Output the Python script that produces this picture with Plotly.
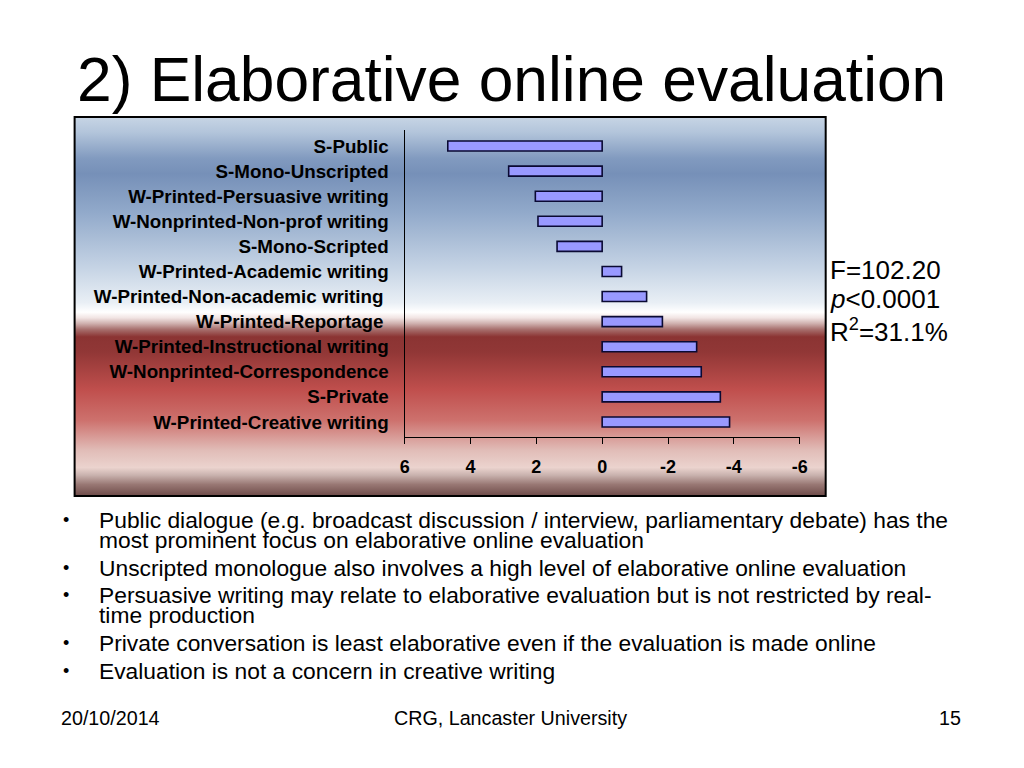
import base64
import plotly.graph_objects as go

# ---- data ----
categories = [
    "S-Public",
    "S-Mono-Unscripted",
    "W-Printed-Persuasive writing",
    "W-Nonprinted-Non-prof writing",
    "S-Mono-Scripted",
    "W-Printed-Academic writing",
    "W-Printed-Non-academic writing ",
    "W-Printed-Reportage ",
    "W-Printed-Instructional writing",
    "W-Nonprinted-Correspondence",
    "S-Private",
    "W-Printed-Creative writing",
]
scores = [4.69, 2.84, 2.03, 1.95, 1.37, -0.59, -1.35, -1.83, -2.87, -3.01, -3.59, -3.87]
x_ticks = [6, 4, 2, 0, -2, -4, -6]
x_tick_labels = ["6", "4", "2", "0", "-2", "-4", "-6"]

title_text = "2) Elaborative online evaluation"
stats_lines = ["F=102.20", "<i>p</i><0.0001", "R<sup>2</sup>=31.1%"]
bullets = [
    ["Public dialogue (e.g. broadcast discussion / interview, parliamentary debate) has the",
     "most prominent focus on elaborative online evaluation"],
    ["Unscripted monologue also involves a high level of elaborative online evaluation"],
    ["Persuasive writing may relate to elaborative evaluation but is not restricted by real-",
     "time production"],
    ["Private conversation is least elaborative even if the evaluation is made online"],
    ["Evaluation is not a concern in creative writing"],
]
footer_left = "20/10/2014"
footer_mid = "CRG, Lancaster University"
footer_right = "15"

# page body has an 8px margin: keep the figure inside the 1024x768 window
OFF = 8
W, H = 1024 - 2 * OFF, 768 - 2 * OFF
FONT = "Liberation Sans, Arial, sans-serif"
# small horizontal correction observed in the photographed page
SX, BX = 0.987, 5.5


def px(x):
    return ((x - BX) / SX - OFF) / W


def py(y):
    return 1 - (y - OFF) / H


# ---- gradient background for the chart box (SVG data URI) ----
stops = [
    (0.00, "#c7d5e5"), (0.04, "#b3c5db"), (0.11, "#819abf"), (0.15, "#7690b8"),
    (0.25, "#91a9ca"), (0.40, "#c6d4e5"), (0.49, "#e9eff5"), (0.515, "#ffffff"),
    (0.53, "#f1e4e3"), (0.545, "#cfb0ae"), (0.56, "#a8716f"), (0.58, "#8b3433"),
    (0.62, "#913736"), (0.72, "#c04f4d"), (0.80, "#cd716d"), (0.88, "#e1bdb8"),
    (0.925, "#ebd3ce"), (0.945, "#c9b2ae"), (0.97, "#987773"), (1.00, "#6e4b49"),
]
stop_xml = "".join(f"<stop offset='{o}' stop-color='{c}'/>" for o, c in stops)
svg = ("<svg xmlns='http://www.w3.org/2000/svg' width='100' height='379' "
       "viewBox='0 0 100 379' preserveAspectRatio='none'><defs>"
       "<linearGradient id='g' x1='0' y1='0' x2='0' y2='1'>" + stop_xml +
       "</linearGradient></defs><rect width='100' height='379' fill='url(#g)'/></svg>")
svg_uri = "data:image/svg+xml;base64," + base64.b64encode(svg.encode()).decode()

box_l, box_t, box_r, box_b = 75, 117, 826, 496

fig = go.Figure()
fig.add_trace(go.Bar(
    x=scores, y=categories, orientation="h", width=0.4,
    marker=dict(color="#9999ff", line=dict(color="#0a0a33", width=1.6)),
    showlegend=False,
))

fig.update_layout(
    width=W, height=H,
    margin=dict(l=0, r=0, t=0, b=0),
    paper_bgcolor="white", plot_bgcolor="rgba(0,0,0,0)",
    font=dict(family=FONT, color="black"),
    xaxis=dict(
        domain=[px(405), px(800)], range=[6, -6],
        tickvals=x_ticks, ticktext=x_tick_labels,
        ticks="outside", ticklen=6, tickwidth=1.3, tickcolor="black",
        showline=True, linecolor="black", linewidth=1.3,
        showgrid=False, zeroline=False,
        tickfont=dict(size=18, family=FONT, weight="bold", color="black"),
        ticklabelstandoff=7,
    ),
    yaxis=dict(
        domain=[py(437), py(130)], range=[11.6, -0.64],
        type="category",
        showline=True, linecolor="black", linewidth=1.3,
        ticks="", showgrid=False, zeroline=False,
        tickfont=dict(size=18.8, family=FONT, weight="bold", color="black"),
        ticklabelstandoff=11,
    ),
    images=[dict(
        source=svg_uri, xref="paper", yref="paper",
        x=px(box_l), y=py(box_t), sizex=px(box_r) - px(box_l), sizey=(box_b - box_t) / H,
        xanchor="left", yanchor="top", sizing="stretch", layer="below",
    )],
    shapes=[dict(
        type="rect", xref="paper", yref="paper",
        x0=px(box_l), x1=px(box_r), y0=py(box_b), y1=py(box_t),
        line=dict(color="black", width=2), fillcolor="rgba(0,0,0,0)", layer="above",
    )],
)

ann = []
# title
ann.append(dict(text=title_text, x=px(75), y=py(80), xref="paper", yref="paper",
                xanchor="left", yanchor="middle", showarrow=False,
                font=dict(size=62.3, family=FONT, color="black")))
# stats
for txt, yy in zip(stats_lines, [270, 299, 330]):
    ann.append(dict(text=txt, x=px(828), y=py(yy), xref="paper", yref="paper",
                    xanchor="left", yanchor="middle", showarrow=False,
                    font=dict(size=26, family=FONT, color="black")))
# bullets
line_y = [[520, 540], [568], [595, 615], [643], [671]]
for para, ys in zip(bullets, line_y):
    ann.append(dict(text="•", x=px(61), y=py(ys[0]), xref="paper", yref="paper",
                    xanchor="left", yanchor="middle", showarrow=False,
                    font=dict(size=18, family=FONT, color="black")))
    for txt, yy in zip(para, ys):
        ann.append(dict(text=txt, x=px(97), y=py(yy), xref="paper", yref="paper",
                        xanchor="left", yanchor="middle", showarrow=False,
                        font=dict(size=22.8, family=FONT, color="black")))
# footer
ann.append(dict(text=footer_left, x=px(59), y=py(718), xref="paper", yref="paper",
                xanchor="left", yanchor="middle", showarrow=False,
                font=dict(size=19.7, family=FONT, color="black")))
ann.append(dict(text=footer_mid, x=px(511), y=py(718), xref="paper", yref="paper",
                xanchor="center", yanchor="middle", showarrow=False,
                font=dict(size=19.7, family=FONT, color="black")))
ann.append(dict(text=footer_right, x=px(963), y=py(718), xref="paper", yref="paper",
                xanchor="right", yanchor="middle", showarrow=False,
                font=dict(size=19.7, family=FONT, color="black")))
fig.update_layout(annotations=ann)

fig.write_html("out.html")
